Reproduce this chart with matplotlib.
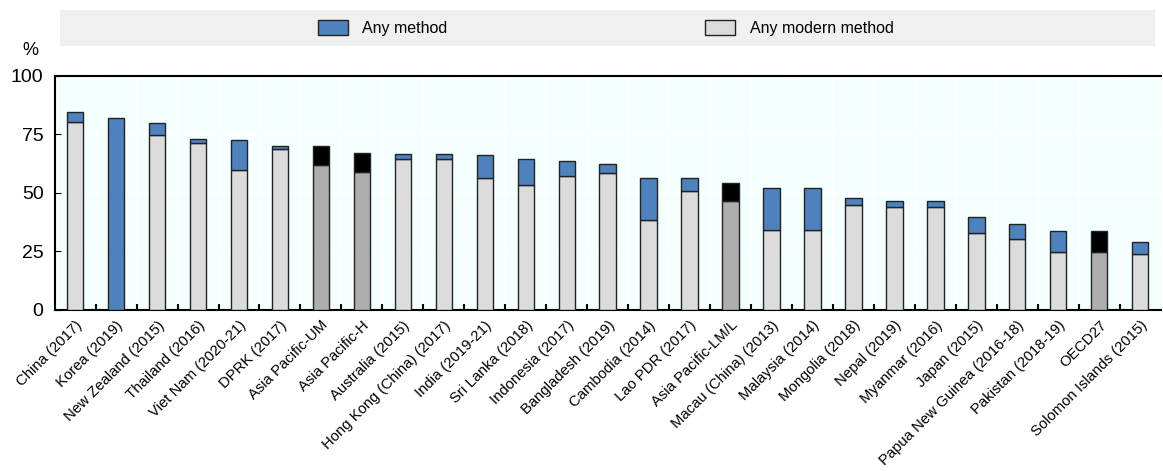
import numpy as np
import matplotlib.pyplot as plt
from matplotlib.patches import Patch

plt.rcParams['font.family'] = ['Liberation Sans', 'DejaVu Sans']

# Data
countries = ['China (2017)', 'Korea (2019)', 'New Zealand (2015)', 'Thailand (2016)',
             'Viet Nam (2020-21)', 'DPRK (2017)', 'Asia Pacific-UM', 'Asia Pacific-H',
             'Australia (2015)', 'Hong Kong (China) (2017)', 'India (2019-21)',
             'Sri Lanka (2018)', 'Indonesia (2017)', 'Bangladesh (2019)', 'Cambodia (2014)',
             'Lao PDR (2017)', 'Asia Pacific-LM/L', 'Macau (China) (2013)', 'Malaysia (2014)',
             'Mongolia (2018)', 'Nepal (2019)', 'Myanmar (2016)', 'Japan (2015)',
             'Papua New Guinea (2016-18)', 'Pakistan (2018-19)', 'OECD27',
             'Solomon Islands (2015)']
any_method = [84.4, 82.1, 79.7, 73.0, 72.7, 70.1, 69.9, 67.1, 66.8, 66.5, 66.3,
              64.3, 63.5, 62.5, 56.2, 56.2, 54.2, 52.0, 52.0, 48.0, 46.4, 46.4,
              39.7, 36.5, 33.7, 33.8, 29.1]
modern_method = [80.1, np.nan, 74.7, 71.1, 59.6, 68.6, 61.9, 59.0, 64.5, 64.3, 56.3,
                 53.3, 57.0, 58.7, 38.5, 50.9, 46.7, 34.1, 34.1, 45.0, 44.0, 44.0,
                 33.0, 30.2, 24.8, 24.6, 24.1]
aggregates = ['Asia Pacific-UM', 'Asia Pacific-H', 'Asia Pacific-LM/L', 'OECD27']

blue = '#4F81BD'
light = '#DCDCDC'
dark = '#AEAEAE'

fig = plt.figure(figsize=(11.63, 4.71), dpi=100)
ax = fig.add_axes([0.047, 0.342, 0.951, 0.497])
ax.set_facecolor('#F4FFFF')

x = np.arange(len(countries))
modern = np.nan_to_num(np.array(modern_method, dtype=float))
total = np.array(any_method)
is_agg = np.array([c in aggregates for c in countries])

bottom_colors = [dark if a else light for a in is_agg]
top_colors = ['black' if a else blue for a in is_agg]

ax.bar(x, modern, width=0.4, color=bottom_colors, edgecolor='#222222', linewidth=1, zorder=3)
ax.bar(x, total - modern, bottom=modern, width=0.4, color=top_colors,
       edgecolor='#222222', linewidth=1, zorder=3)

ax.set_xlim(-0.5, len(countries) - 0.5)
ax.set_ylim(0, 100)
ax.set_yticks([0, 25, 50, 75, 100])
ax.tick_params(axis='y', direction='in', length=4, labelsize=14, pad=8)
ax.set_xticks(x)
ax.set_xticklabels(countries, rotation=45, ha='right', rotation_mode='anchor', fontsize=10.7)
ax.tick_params(axis='x', length=0, pad=6)
ax.set_xticks(np.arange(0.5, len(countries) - 1, 1), minor=True)
ax.tick_params(axis='x', which='minor', direction='in', length=4, width=1.5)

ax.grid(axis='y', color='white', linewidth=1.2, zorder=0)
ax.grid(axis='x', which='minor', color='white', linewidth=1.2, zorder=0)
ax.set_axisbelow(True)

for side in ['left', 'bottom', 'top']:
    ax.spines[side].set_linewidth(1.5)
ax.spines['right'].set_visible(False)

fig.text(0.026, 0.892, '%', fontsize=13, ha='center', va='center')

# legend strip
strip = fig.add_axes([0.052, 0.902, 0.941, 0.077])
strip.set_facecolor('#F0F0F0')
strip.set_xticks([])
strip.set_yticks([])
for s in strip.spines.values():
    s.set_visible(False)
leg_kw = dict(frameon=False, fontsize=11.5, handlelength=1.9, handleheight=1.0,
              handletextpad=0.9, borderpad=0, borderaxespad=0, loc='center left')
leg1 = strip.legend(handles=[Patch(facecolor=blue, edgecolor='#222222', label='Any method')],
                    bbox_to_anchor=(0.235, 0.5), **leg_kw)
strip.add_artist(leg1)
strip.legend(handles=[Patch(facecolor=light, edgecolor='#222222', label='Any modern method')],
             bbox_to_anchor=(0.589, 0.5), **leg_kw)

fig.savefig('out.png', dpi=100)
